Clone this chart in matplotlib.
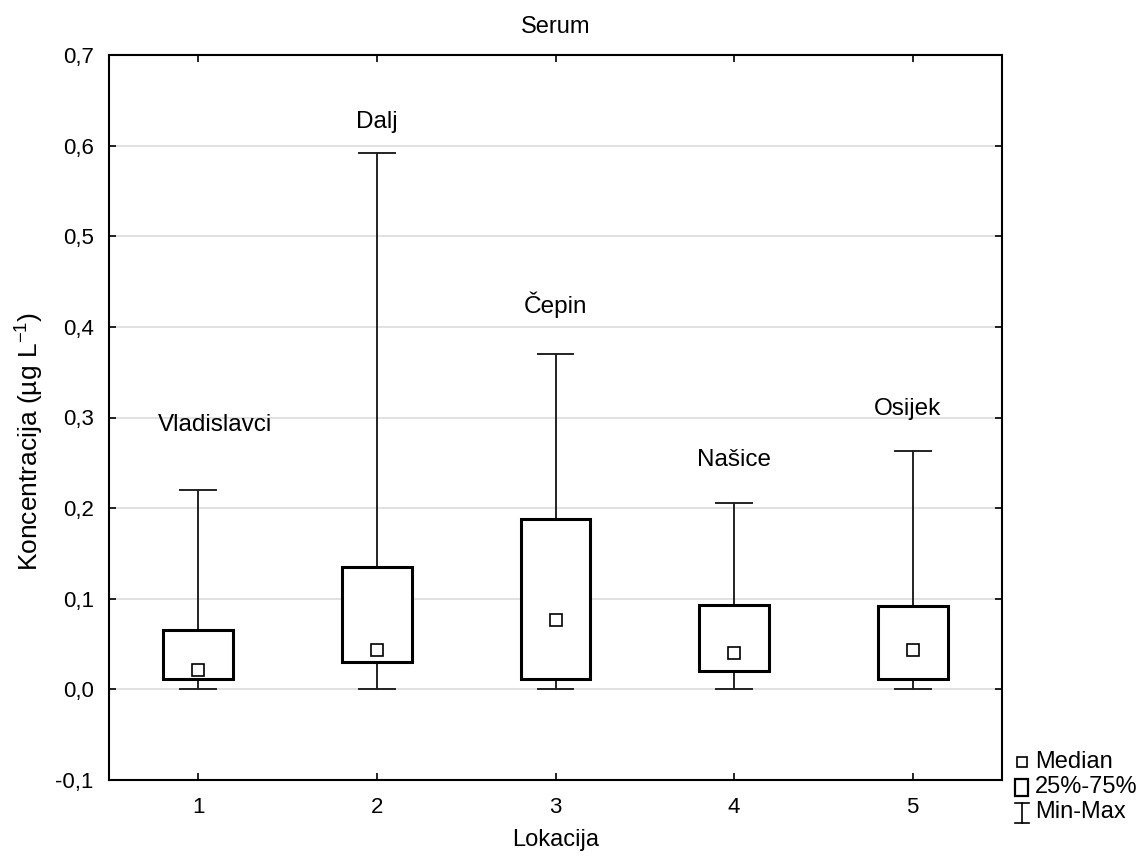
import matplotlib
matplotlib.use("Agg")
import matplotlib.pyplot as plt
from matplotlib.lines import Line2D
from matplotlib.patches import Rectangle
from matplotlib.ticker import FuncFormatter

plt.rcParams['font.family'] = ['Liberation Sans', 'DejaVu Sans']
plt.rcParams['mathtext.fontset'] = 'custom'
plt.rcParams['mathtext.rm'] = 'Liberation Sans'

positions = [1, 2, 3, 4, 5]
locations = ['Vladislavci', 'Dalj', 'Čepin', 'Našice', 'Osijek']
mins = [0.0, 0.0, 0.0, 0.0, 0.0]
q1 = [0.012, 0.030, 0.012, 0.020, 0.012]
medians = [0.021, 0.043, 0.077, 0.040, 0.043]
q3 = [0.066, 0.135, 0.188, 0.093, 0.092]
maxs = [0.220, 0.592, 0.370, 0.206, 0.263]
label_x = [1.095, 2.0, 3.0, 4.0, 4.97]
label_y = [0.292, 0.626, 0.424, 0.253, 0.309]
yticks = [-0.1, 0.0, 0.1, 0.2, 0.3, 0.4, 0.5, 0.6, 0.7]

W, H = 1145, 861
fig = plt.figure(figsize=(W / 100, H / 100), dpi=100)
ax = fig.add_axes([109 / W, 1 - 780 / H, (1002 - 109) / W, (780 - 55) / H])

ax.set_xlim(0.5, 5.5)
ax.set_ylim(-0.1, 0.7)
ax.set_yticks(yticks)
ax.set_xticks(positions)
ax.yaxis.set_major_formatter(FuncFormatter(lambda v, p: f"{v:.1f}".replace('.', ',')))
ax.grid(axis='y', color='#dcdcdc', linewidth=1.2, zorder=0)
ax.set_axisbelow(True)
ax.tick_params(direction='in', length=5, width=1.2, top=True, right=True,
               labelsize=16, pad=11)
ax.tick_params(axis='x', pad=12)
for s in ax.spines.values():
    s.set_linewidth(1.5)

bw = 0.39
cw = 0.2
for i, x in enumerate(positions):
    ax.plot([x, x], [q3[i], maxs[i]], color='#222222', lw=1.4, zorder=2)
    ax.plot([x, x], [mins[i], q1[i]], color='#222222', lw=1.4, zorder=2)
    ax.plot([x - cw / 2, x + cw / 2], [maxs[i], maxs[i]], color='#222222', lw=1.4, zorder=2)
    ax.plot([x - cw / 2, x + cw / 2], [mins[i], mins[i]], color='#222222', lw=1.4, zorder=2)
    ax.add_patch(Rectangle((x - bw / 2, q1[i]), bw, q3[i] - q1[i], facecolor='white',
                           edgecolor='black', lw=2.2, zorder=3))
    ax.plot([x], [medians[i]], marker='s', markersize=9, markerfacecolor='white',
            markeredgecolor='black', markeredgewidth=1.2, zorder=4)
    ax.text(label_x[i], label_y[i], locations[i], ha='center', va='center', fontsize=17.5)

ax.set_title('Serum', fontsize=17, pad=16)
ax.set_xlabel('Lokacija', fontsize=17, labelpad=8)
ax.set_ylabel('Koncentracija (µg L$^{\\mathregular{-1}}$)', fontsize=19)
ax.yaxis.set_label_coords(-0.072, 0.4676)

# legend
def fx(px):
    return px / W

def fy(py):
    return 1 - py / H

fig.add_artist(Line2D([fx(1022)], [fy(762)], marker='s', markersize=7, markerfacecolor='white',
                      markeredgecolor='black', markeredgewidth=1.2, transform=fig.transFigure))
fig.add_artist(Rectangle((fx(1015), fy(796)), 13 / W, 17 / H, facecolor='white',
                         edgecolor='black', lw=1.6, transform=fig.transFigure))
fig.add_artist(Line2D([fx(1022), fx(1022)], [fy(803), fy(823)], color='black', lw=1.2,
                      transform=fig.transFigure))
fig.add_artist(Line2D([fx(1015), fx(1029)], [fy(803), fy(803)], color='black', lw=1.2,
                      transform=fig.transFigure))
fig.add_artist(Line2D([fx(1015), fx(1029)], [fy(823), fy(823)], color='black', lw=1.2,
                      transform=fig.transFigure))
fig.text(fx(1035), fy(762), 'Median', fontsize=17, va='center', ha='left')
fig.text(fx(1035), fy(787), '25%-75%', fontsize=17, va='center', ha='left')
fig.text(fx(1035), fy(812), 'Min-Max', fontsize=17, va='center', ha='left')

fig.savefig('out.png', dpi=100)
